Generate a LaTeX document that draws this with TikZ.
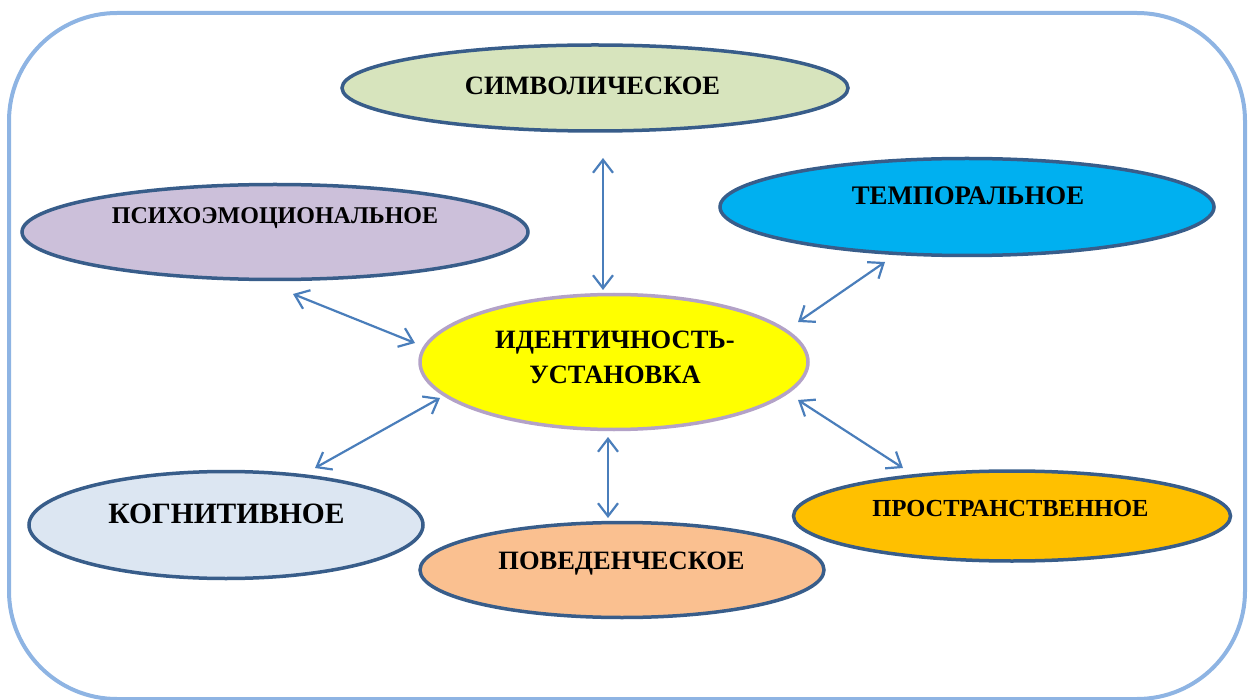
\documentclass[tikz,border=0pt]{standalone}
\usepackage{fontspec}
\setmainfont{Liberation Serif}
\usetikzlibrary{shapes.geometric,arrows.meta}
\definecolor{frameblue}{HTML}{8EB4E3}
\definecolor{edgeblue}{HTML}{385D8A}
\definecolor{linkblue}{HTML}{4A7EBB}
\definecolor{cSym}{HTML}{D7E4BD}
\definecolor{cPsy}{HTML}{CCC0DA}
\definecolor{cTemp}{HTML}{00B0F0}
\definecolor{cCog}{HTML}{DCE6F2}
\definecolor{cBeh}{HTML}{FAC090}
\definecolor{cSpace}{HTML}{FFC000}
\definecolor{cCore}{HTML}{FFFF00}
\definecolor{coreEdge}{HTML}{B3A2C7}
\tikzset{
  oval/.style={ellipse, draw=edgeblue, line width=3.5pt, inner sep=0pt},
  word/.style={text=black, align=center, anchor=base, inner sep=0pt},
  link/.style={draw=linkblue, line width=2.2pt,
    {Straight Barb[length=13pt,width=20pt,line width=2.2pt]}-{Straight Barb[length=13pt,width=20pt,line width=2.2pt]}}
}
\begin{document}
\begin{tikzpicture}[x=1pt,y=-1pt]
\useasboundingbox (0,0) rectangle (1252,700);
% outer frame
\draw[frameblue, line width=4pt, rounded corners=108pt] (9,13) rectangle (1245,699);

% ellipses
\node[oval, fill=cSym, minimum width=506pt, minimum height=86pt] (sym) at (595,88) {};
\node[oval, fill=cPsy, minimum width=506pt, minimum height=95pt] (psy) at (275,232) {};
\node[oval, fill=cTemp, minimum width=494pt, minimum height=97pt] (temp) at (967,207) {};
\node[oval, draw=coreEdge, fill=cCore, minimum width=388pt, minimum height=135pt] (core) at (614,362) {};
\node[oval, fill=cCog, minimum width=394pt, minimum height=107pt] (cog) at (226,525) {};
\node[oval, fill=cBeh, minimum width=404pt, minimum height=95pt] (beh) at (622,570) {};
\node[oval, fill=cSpace, minimum width=437pt, minimum height=90pt] (space) at (1012,516) {};

% labels (placed by baseline; the two-line label by its last line)
\node[word, font=\bfseries\fontsize{26.5}{30}\selectfont] (tSym) at (592.5,94.3) {СИМВОЛИЧЕСКОЕ};
\node[word, font=\bfseries\fontsize{24}{28}\selectfont] (tPsy) at (275,224) {ПСИХОЭМОЦИОНАЛЬНОЕ};
\node[word, font=\bfseries\fontsize{26.8}{30}\selectfont] (tTemp) at (968,204.3) {ТЕМПОРАЛЬНОЕ};
\node[word, font=\bfseries\fontsize{26.5}{35}\selectfont] (tCore) at (615,383) {ИДЕНТИЧНОСТЬ-\\УСТАНОВКА};
\node[word, font=\bfseries\fontsize{29.5}{33}\selectfont] (tCog) at (226.5,523) {КОГНИТИВНОЕ};
\node[word, font=\bfseries\fontsize{26.5}{30}\selectfont] (tBeh) at (621.5,569.3) {ПОВЕДЕНЧЕСКОЕ};
\node[word, font=\bfseries\fontsize{24.5}{28}\selectfont] (tSpace) at (1010.5,516) {ПРОСТРАНСТВЕННОЕ};

% connector end points
\coordinate (symA) at (603,158);  \coordinate (symB) at (603,290);
\coordinate (psyA) at (293,294);  \coordinate (psyB) at (415,343);
\coordinate (tempA) at (885,262); \coordinate (tempB) at (798,322);
\coordinate (cogA) at (440,398);  \coordinate (cogB) at (315,468);
\coordinate (behA) at (608,437);  \coordinate (behB) at (608,518);
\coordinate (spaceA) at (798,400); \coordinate (spaceB) at (903,468);

% connectors
\draw[link] (symA) -- (symB);
\draw[link] (psyA) -- (psyB);
\draw[link] (tempA) -- (tempB);
\draw[link] (cogA) -- (cogB);
\draw[link] (behA) -- (behB);
\draw[link] (spaceA) -- (spaceB);
\end{tikzpicture}
\end{document}
